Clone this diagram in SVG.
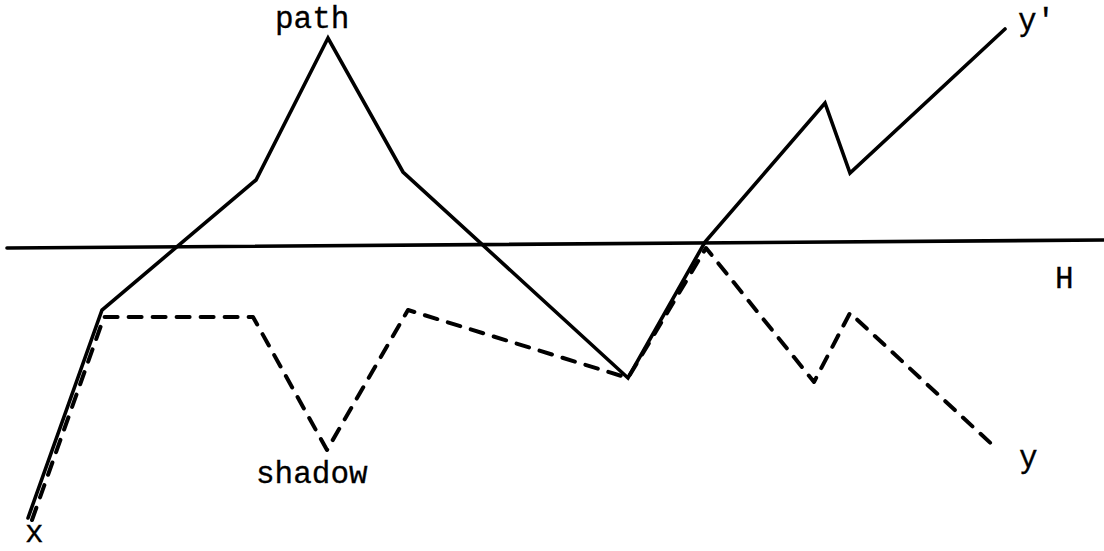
<svg xmlns="http://www.w3.org/2000/svg" width="1104" height="551" viewBox="0 0 1104 551">
<style>
.solid{fill:none;stroke:#000;stroke-width:3.6;stroke-linejoin:miter;stroke-linecap:round}
.dash{fill:none;stroke:#000;stroke-width:4;stroke-dasharray:13 11;stroke-linecap:round;stroke-linejoin:round}
.lbl{font-family:"Liberation Mono","Courier New",monospace;font-size:31px;fill:#000;stroke:#000;stroke-width:0.3}
</style>
<rect width="1104" height="551" fill="#fff"/>
<g id="connectors">
<line id="H-line" class="solid" x1="7" y1="248" x2="1104" y2="240"/>
<polyline id="path-line" class="solid" points="28,518 102,310 256,180 328,38 403,172 628,378 705,242 825,103 850,173 1005,29"/>
<polyline id="shadow-line" class="dash" points="32,520 104,317 253,317 327,450 408,310 628,378 706,248 814,382 850,313 998,450"/>
</g>
<g id="label-path"><text class="lbl" x="275" y="28">path</text></g>
<g id="label-yprime"><text class="lbl" x="1018" y="30">y'</text></g>
<g id="label-H"><text class="lbl" x="1055" y="288">H</text></g>
<g id="label-shadow"><text class="lbl" x="256" y="483">shadow</text></g>
<g id="label-y"><text class="lbl" x="1019" y="467">y</text></g>
<g id="label-x"><text class="lbl" x="25" y="542">x</text></g>
</svg>
